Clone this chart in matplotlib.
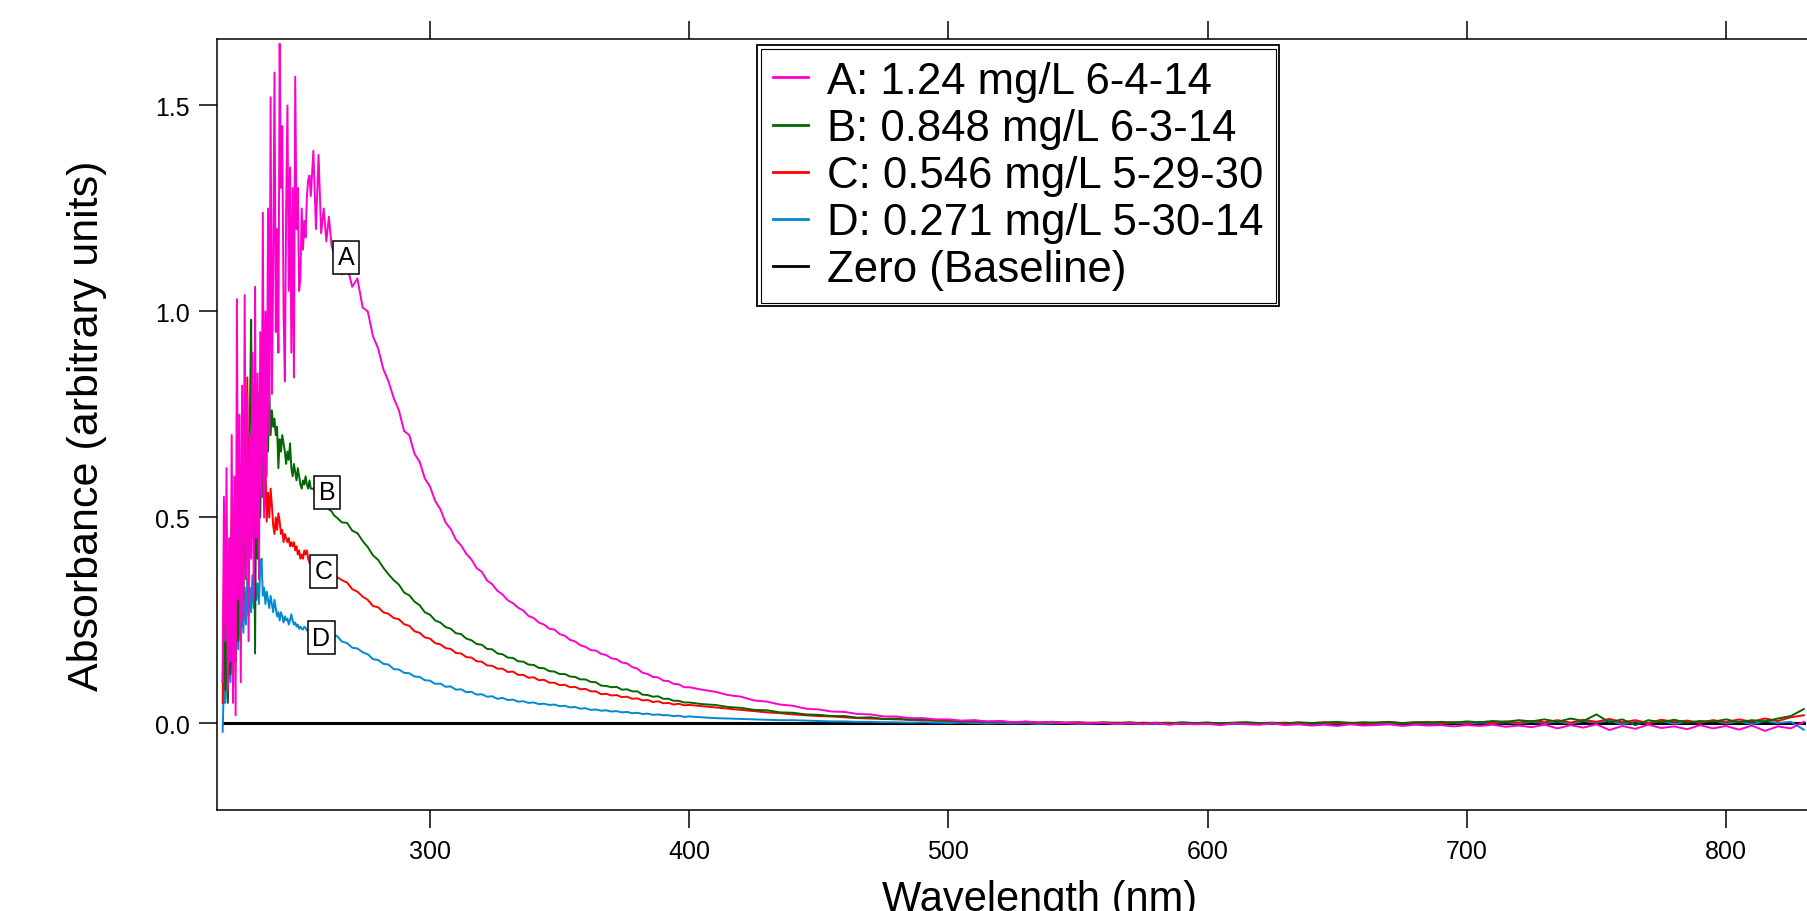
import numpy as np
import matplotlib.pyplot as plt
from matplotlib.patches import Rectangle

plt.rcParams['font.family'] = ['Liberation Sans', 'DejaVu Sans']

# wavelength grid (nm): fine steps in the noisy UV part, coarser further out
wl_uv = np.arange(220.0, 254.25, 0.5)
wl_join = np.arange(255, 264, 1)
wl_mid = np.arange(264, 401, 2)
wl_far = np.arange(405, 831, 5)
wavelength = np.concatenate([wl_uv, wl_join, wl_mid, wl_far])

# A: 1.24 mg/L
abs_a = [
    # 220 - 254 nm
    0.10, 0.55, 0.20, 0.62, 0.08, 0.45, 0.15, 0.70, 0.05, 0.60,
    0.02, 1.03, 0.30, 0.75, 0.10, 0.82, 0.25, 1.04, 0.35, 0.80,
    0.20, 0.70, 0.40, 0.90, 0.30, 1.06, 0.45, 0.85, 0.35, 0.95,
    0.55, 1.24, 0.50, 1.00, 0.60, 1.25, 0.70, 1.52, 0.80, 1.10,
    1.58, 0.95, 1.20, 0.90, 1.65, 1.30, 1.45, 1.00, 0.83, 1.25,
    1.50, 1.05, 1.35, 0.90, 1.30, 0.84, 1.57, 1.20, 1.30, 1.05,
    1.08, 1.25, 1.15, 1.22, 1.18, 1.28, 1.32, 1.33, 1.28,
    # 255 - 263 nm
    1.39, 1.20, 1.38, 1.19, 1.25, 1.17, 1.23, 1.16, 1.14,
    # 264 - 400 nm
    1.13, 1.09, 1.11, 1.06, 1.08, 1.01, 1.00, 0.94, 0.91, 0.86,
    0.83, 0.79, 0.76, 0.71, 0.70, 0.655, 0.635, 0.595, 0.575, 0.54,
    0.52, 0.488, 0.472, 0.446, 0.432, 0.412, 0.398, 0.377, 0.368, 0.347,
    0.338, 0.322, 0.313, 0.299, 0.292, 0.281, 0.274, 0.261, 0.256, 0.245,
    0.240, 0.230, 0.228, 0.217, 0.213, 0.203, 0.199, 0.190, 0.186, 0.178,
    0.177, 0.169, 0.166, 0.158, 0.156, 0.148, 0.146, 0.137, 0.133, 0.123,
    0.120, 0.113, 0.112, 0.104, 0.103, 0.096, 0.095, 0.088, 0.088,
    # 405 - 830 nm
    0.082, 0.077, 0.069, 0.065, 0.056, 0.053, 0.046, 0.043, 0.036, 0.034,
    0.029, 0.028, 0.023, 0.022, 0.017, 0.017, 0.013, 0.013, 0.010, 0.010,
    0.007, 0.008, 0.005, 0.006, 0.003, 0.005, 0.002, 0.004, 0.001, 0.003,
    0.000, 0.002, -0.001, 0.001, -0.002, 0.001, -0.003, 0.000, -0.002, -0.001,
    -0.004, 0.000, -0.002, -0.003, 0.000, -0.004, -0.002, -0.005, -0.003, -0.006,
    -0.002, -0.005, -0.004, -0.002, -0.006, -0.003, -0.005, -0.004, -0.007, -0.004,
    -0.006, -0.003, -0.008, -0.005, -0.009, -0.003, -0.012, -0.004, -0.010, -0.002,
    -0.016, -0.006, -0.013, -0.003, -0.011, -0.007, -0.014, -0.004, -0.012, -0.006,
    -0.015, -0.005, -0.018, -0.007, -0.012, 0.004,
]

# B: 0.848 mg/L
abs_b = [
    0.10, 0.35, 0.08, 0.25, 0.05, 0.30, 0.12, 0.45, 0.10, 0.40,
    0.15, 0.55, 0.20, 0.60, 0.25, 0.50, 0.30, 0.70, 0.35, 0.60,
    0.40, 0.75, 0.98, 0.45, 0.70, 0.17, 0.65, 0.40, 0.80, 0.50,
    0.72, 0.55, 0.85, 0.62, 0.78, 0.66, 0.80, 0.70, 0.76, 0.72,
    0.74, 0.70, 0.72, 0.62, 0.69, 0.66, 0.70, 0.68, 0.66, 0.63,
    0.66, 0.64, 0.68, 0.62, 0.60, 0.63, 0.61, 0.59, 0.62, 0.60,
    0.58, 0.57, 0.59, 0.58, 0.60, 0.58, 0.57, 0.59, 0.57,
    0.57, 0.56, 0.55, 0.54, 0.535, 0.53, 0.52, 0.515, 0.505,
    0.50, 0.488, 0.487, 0.468, 0.462, 0.443, 0.428, 0.408, 0.397, 0.378,
    0.362, 0.348, 0.337, 0.318, 0.311, 0.296, 0.287, 0.27, 0.264, 0.25,
    0.245, 0.234, 0.23, 0.219, 0.217, 0.206, 0.202, 0.193, 0.191, 0.181,
    0.18, 0.17, 0.168, 0.16, 0.159, 0.151, 0.15, 0.143, 0.142, 0.135,
    0.134, 0.127, 0.126, 0.12, 0.12, 0.114, 0.113, 0.107, 0.107, 0.101,
    0.1, 0.092, 0.091, 0.088, 0.089, 0.082, 0.083, 0.078, 0.078, 0.07,
    0.069, 0.065, 0.066, 0.06, 0.06, 0.055, 0.055, 0.051, 0.051,
    0.047, 0.045, 0.040, 0.038, 0.033, 0.032, 0.027, 0.026, 0.022, 0.021,
    0.018, 0.018, 0.014, 0.015, 0.011, 0.012, 0.009, 0.010, 0.007, 0.008,
    0.005, 0.007, 0.004, 0.005, 0.003, 0.004, 0.002, 0.004, 0.002, 0.003,
    0.001, 0.003, 0.001, 0.003, 0.000, 0.002, 0.000, 0.003, 0.001, 0.002,
    0.000, 0.002, 0.003, 0.001, 0.002, 0.000, 0.003, 0.001, 0.002, 0.004,
    0.001, 0.003, 0.002, 0.004, 0.001, 0.003, 0.002, 0.004, 0.002, 0.005,
    0.003, 0.006, 0.004, 0.008, 0.005, 0.010, 0.004, 0.012, 0.006, 0.022,
    0.003, 0.010, -0.004, 0.008, 0.003, 0.009, 0.002, 0.006, 0.004, 0.010,
    0.003, 0.008, 0.005, 0.012, 0.018, 0.035,
]

# C: 0.546 mg/L
abs_c = [
    0.05, 0.30, 0.10, 0.40, 0.06, 0.35, 0.15, 0.50, 0.10, 0.45,
    0.20, 0.55, 0.25, 0.60, 0.30, 0.65, 0.35, 0.70, 0.40, 0.84,
    0.45, 0.70, 0.50, 0.80, 0.55, 0.72, 0.48, 0.78, 0.55, 0.70,
    0.60, 0.66, 0.52, 0.63, 0.49, 0.56, 0.50, 0.57, 0.53, 0.48,
    0.46, 0.50, 0.47, 0.51, 0.49, 0.46, 0.47, 0.44, 0.46, 0.45,
    0.44, 0.45, 0.43, 0.44, 0.43, 0.44, 0.42, 0.43, 0.41, 0.42,
    0.40, 0.41, 0.40, 0.42, 0.41, 0.42, 0.40, 0.39, 0.395,
    0.385, 0.38, 0.378, 0.375, 0.372, 0.37, 0.365, 0.362, 0.358,
    0.356, 0.348, 0.342, 0.326, 0.32, 0.308, 0.3, 0.285, 0.282, 0.27,
    0.266, 0.256, 0.253, 0.241, 0.237, 0.224, 0.22, 0.209, 0.206, 0.195,
    0.192, 0.183, 0.181, 0.171, 0.17, 0.161, 0.16, 0.151, 0.15, 0.141,
    0.14, 0.133, 0.133, 0.125, 0.126, 0.118, 0.118, 0.111, 0.112, 0.105,
    0.106, 0.099, 0.099, 0.093, 0.094, 0.088, 0.089, 0.083, 0.084, 0.078,
    0.078, 0.071, 0.072, 0.068, 0.069, 0.064, 0.065, 0.06, 0.061, 0.056,
    0.057, 0.052, 0.054, 0.049, 0.05, 0.046, 0.048, 0.044, 0.045,
    0.042, 0.039, 0.036, 0.033, 0.030, 0.027, 0.025, 0.022, 0.020, 0.018,
    0.017, 0.015, 0.013, 0.012, 0.011, 0.010, 0.009, 0.008, 0.007, 0.006,
    0.005, 0.005, 0.004, 0.004, 0.003, 0.003, 0.002, 0.003, 0.002, 0.001,
    0.002, 0.001, 0.002, 0.000, 0.002, 0.001, 0.002, 0.000, 0.001, 0.002,
    0.000, 0.001, 0.002, 0.000, 0.001, 0.002, 0.000, 0.001, 0.003, 0.001,
    0.002, 0.000, 0.002, 0.003, 0.001, 0.002, 0.004, 0.001, 0.003, 0.002,
    0.004, 0.001, 0.005, 0.002, 0.006, 0.003, 0.008, 0.002, 0.009, 0.004,
    0.011, 0.003, 0.008, 0.001, 0.009, 0.004, 0.007, 0.002, 0.008, 0.003,
    0.010, 0.004, 0.012, 0.006, 0.015, 0.020,
]

# D: 0.271 mg/L
abs_d = [
    -0.02, 0.10, 0.05, 0.15, 0.08, 0.20, 0.10, 0.22, 0.12, 0.25,
    0.15, 0.28, 0.18, 0.30, 0.20, 0.32, 0.22, 0.33, 0.24, 0.35,
    0.26, 0.33, 0.27, 0.36, 0.28, 0.35, 0.30, 0.34, 0.29, 0.38,
    0.40, 0.31, 0.33, 0.29, 0.32, 0.30, 0.28, 0.31, 0.29, 0.27,
    0.30, 0.28, 0.26, 0.27, 0.25, 0.27, 0.26, 0.245, 0.26, 0.25,
    0.255, 0.24, 0.25, 0.265, 0.25, 0.24, 0.245, 0.235, 0.24, 0.23,
    0.235, 0.23, 0.228, 0.235, 0.232, 0.226, 0.225, 0.23, 0.228,
    0.228, 0.225, 0.222, 0.222, 0.22, 0.218, 0.217, 0.215, 0.213,
    0.213, 0.199, 0.195, 0.184, 0.182, 0.173, 0.168, 0.156, 0.154, 0.145,
    0.143, 0.132, 0.131, 0.123, 0.122, 0.114, 0.113, 0.105, 0.104, 0.096,
    0.097, 0.089, 0.09, 0.082, 0.083, 0.076, 0.077, 0.07, 0.071, 0.065,
    0.066, 0.06, 0.062, 0.057, 0.058, 0.053, 0.054, 0.05, 0.051, 0.047,
    0.048, 0.045, 0.046, 0.042, 0.043, 0.039, 0.04, 0.036, 0.037, 0.033,
    0.034, 0.031, 0.032, 0.029, 0.03, 0.027, 0.028, 0.025, 0.026, 0.023,
    0.024, 0.021, 0.022, 0.02, 0.02, 0.018, 0.019, 0.016, 0.017,
    0.015, 0.013, 0.012, 0.011, 0.010, 0.009, 0.008, 0.008, 0.007, 0.006,
    0.005, 0.005, 0.004, 0.004, 0.003, 0.003, 0.002, 0.003, 0.002, 0.001,
    0.002, 0.001, 0.000, 0.001, 0.000, 0.001, -0.001, 0.000, 0.001, -0.001,
    0.000, 0.001, -0.001, 0.000, 0.001, -0.001, 0.000, 0.001, -0.001, 0.000,
    0.001, -0.001, 0.000, 0.001, 0.000, -0.001, 0.001, 0.000, -0.001, 0.001,
    0.000, 0.001, -0.001, 0.001, 0.000, 0.002, 0.000, 0.001, 0.002, 0.000,
    0.002, 0.001, 0.003, 0.000, 0.004, 0.001, 0.005, -0.001, 0.006, 0.002,
    0.007, -0.002, 0.005, 0.001, 0.006, -0.001, 0.004, 0.002, 0.007, 0.000,
    0.005, -0.002, 0.006, 0.001, 0.004, -0.015,
]

series_labels = ["A: 1.24 mg/L 6-4-14", "B: 0.848 mg/L 6-3-14",
                 "C: 0.546 mg/L 5-29-30", "D: 0.271 mg/L 5-30-14"]
series_colors = ["#ff00cc", "#006600", "#ff0000", "#0088d0"]
tag_text = ["A", "B", "C", "D"]
tag_x = [267.6, 260.2, 259.1, 258.1]
tag_y = [1.132, 0.561, 0.369, 0.2075]
zero_level = 0.0

spectra = [abs_a, abs_b, abs_c, abs_d]
for s in spectra:
    assert len(s) == len(wavelength), (len(s), len(wavelength))

fig = plt.figure(figsize=(18.07, 9.12), dpi=100)
ax = fig.add_axes([217 / 1807, 1 - 811 / 912, 1646 / 1807, 771 / 912])

# baseline first, then D..A so that A ends up on top
zero_line, = ax.plot(wavelength, np.full(len(wavelength), zero_level),
                     color="black", lw=2.2, zorder=2, label="Zero (Baseline)")
lines = []
for i in range(3, -1, -1):
    ln, = ax.plot(wavelength, spectra[i], color=series_colors[i], lw=1.4,
                  zorder=3 + (3 - i), label=series_labels[i])
    lines.insert(0, ln)

for x, y, t in zip(tag_x, tag_y, tag_text):
    ax.text(x, y, t, fontsize=18, ha="center", va="center", zorder=10,
            bbox=dict(boxstyle="square,pad=0.18", fc="white", ec="black", lw=1.1))

ax.set_xlim(217.82, 852.85)
ax.set_ylim(-0.21, 1.6614)
ax.set_xticks([300, 400, 500, 600, 700, 800])
ax.set_yticks([0.0, 0.5, 1.0, 1.5])
ax.set_yticklabels(["0.0", "0.5", "1.0", "1.5"])
ax.tick_params(axis="both", direction="out", length=13, width=1.1, labelsize=18)
ax.tick_params(axis="x", top=True, labeltop=False, pad=7.8)
ax.tick_params(axis="y", right=False, pad=6.5)
for sp in ax.spines.values():
    sp.set_linewidth(1.1)

ax.set_xlabel("Wavelength (nm)", fontsize=30)
ax.xaxis.set_label_coords(0.5, -0.0895)
ax.set_ylabel("Absorbance (arbitrary units)", fontsize=31)
ax.yaxis.set_label_coords(-0.0668, 0.5)

leg = ax.legend(handles=lines + [zero_line], loc="upper left",
                bbox_to_anchor=(760.7 / 1807, 1 - 49.5 / 912),
                bbox_transform=fig.transFigure, fontsize=31.5,
                frameon=True, fancybox=False, framealpha=1, edgecolor="black",
                borderpad=0.28, labelspacing=0.14, handlelength=0.8,
                handletextpad=0.43, borderaxespad=0)
leg.get_frame().set_linewidth(0.8)
leg.set_zorder(20)
for h in leg.get_lines():
    h.set_linewidth(2.0)

# second outer frame around the legend
fig.canvas.draw()
bb = leg.get_frame().get_window_extent()
W, H = fig.bbox.width, fig.bbox.height
gap = 3.5
fig.add_artist(Rectangle(((bb.x0 - gap) / W, (bb.y0 - gap) / H),
                         (bb.width + 2 * gap) / W, (bb.height + 2 * gap) / H,
                         transform=fig.transFigure, fill=False,
                         ec="black", lw=1.3, zorder=30))

fig.savefig("out.png", dpi=100)
